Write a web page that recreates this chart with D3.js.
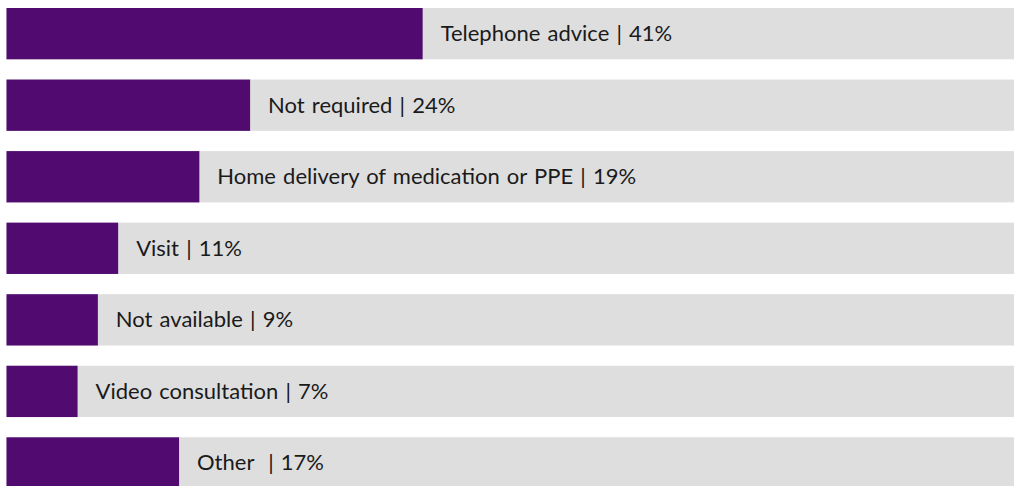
<!DOCTYPE html>
<html>
<head>
<meta charset="utf-8">
<script src="https://cdn.jsdelivr.net/npm/d3@7"></script>
<style>
  html, body { margin: 0; padding: 0; background: #ffffff; overflow: hidden; }
  svg { display: block; }
  text { white-space: pre; }
</style>
</head>
<body>
<svg id="chart" width="1014" height="486"></svg>
<script>
// Access to services during the period (share of respondents)
const categories = [
  "Telephone advice",
  "Not required",
  "Home delivery of medication or PPE",
  "Visit",
  "Not available",
  "Video consultation",
  "Other "
];
const values = [41, 24, 19, 11, 9, 7, 17];
const domainMax = 100;

const svg = d3.select("#chart");

const x = d3.scaleLinear().domain([0, domainMax]).range([6.5, 1021.5]);
const y = d3.scaleBand()
  .domain(categories)
  .range([8, 488.6])
  .paddingInner(0.283)
  .paddingOuter(0);

const rows = svg.selectAll("g.row")
  .data(categories.map((c, i) => ({ name: c, value: values[i] })))
  .join("g")
  .attr("class", "row");

// full-width track
rows.append("rect")
  .attr("x", x(0))
  .attr("y", d => y(d.name))
  .attr("width", x(domainMax) - x(0))
  .attr("height", y.bandwidth())
  .attr("fill", "#dedede");

// value bar
rows.append("rect")
  .attr("x", x(0))
  .attr("y", d => y(d.name))
  .attr("width", d => x(d.value) - x(0))
  .attr("height", y.bandwidth())
  .attr("fill", "#500a70");

// label: "name | value%"
rows.append("text")
  .attr("x", d => x(d.value) + 18)
  .attr("y", d => y(d.name) + y.bandwidth() / 2 + 7.5)
  .attr("font-family", "Lato, 'Noto Sans', sans-serif")
  .attr("font-size", 22)
  .attr("word-spacing", 1.5)
  .attr("fill", "#1a1a1a")
  .text(d => `${d.name} | ${d.value}%`);
</script>
</body>
</html>
